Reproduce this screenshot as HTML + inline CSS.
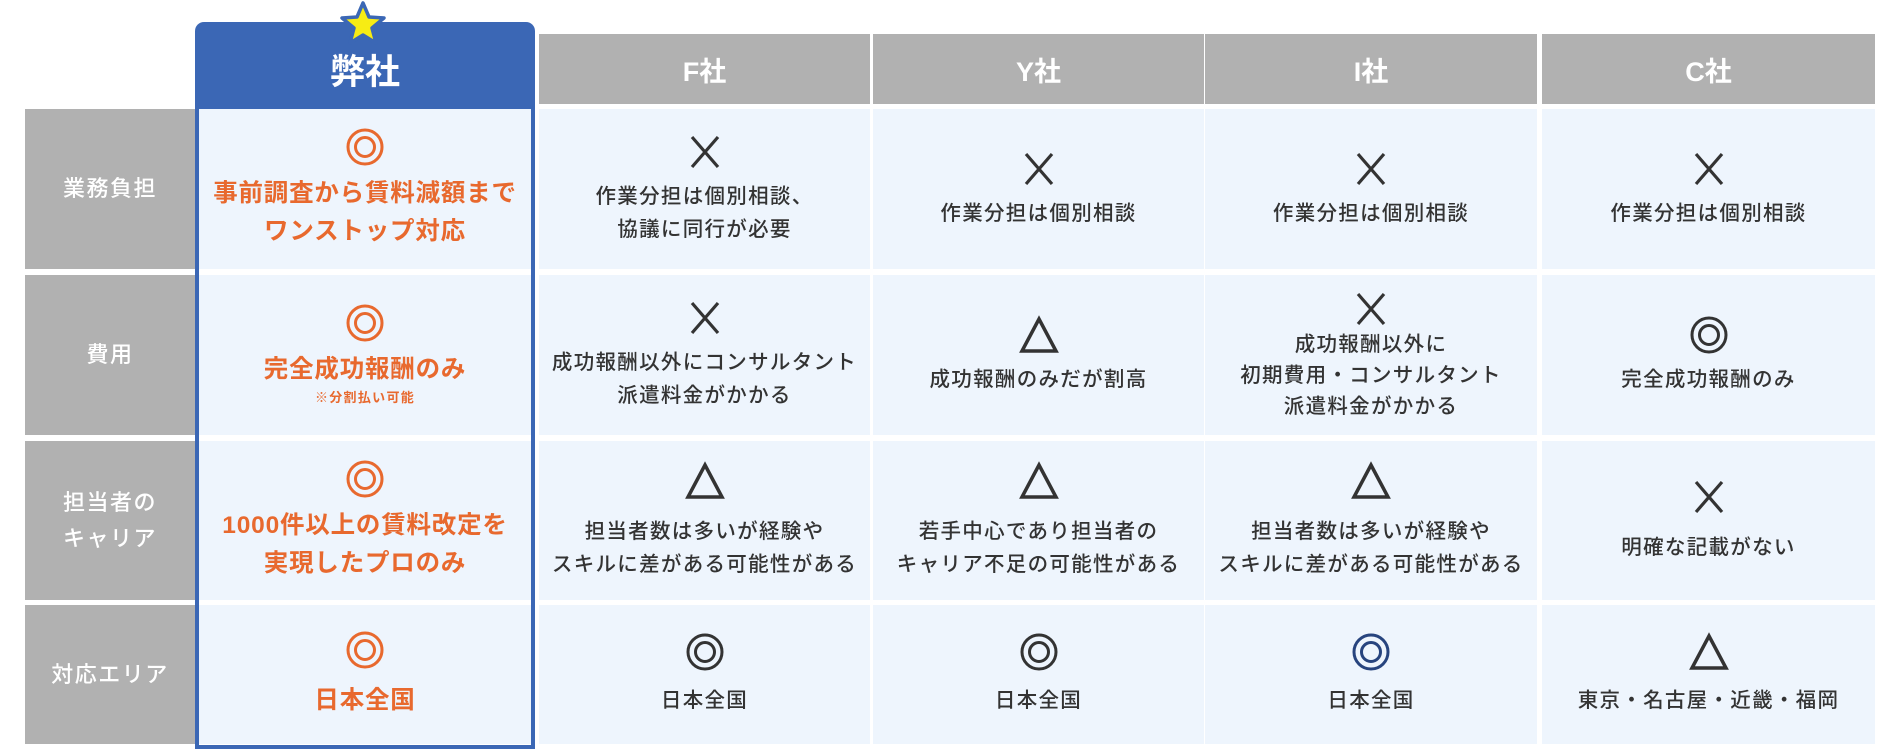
<!DOCTYPE html>
<html><head><meta charset="utf-8"><style>
*{margin:0;padding:0;box-sizing:border-box}
body{width:1895px;height:751px;background:#fff;position:relative;overflow:hidden;font-family:"Liberation Sans","Noto Sans CJK JP",sans-serif;color:#333}
.a{position:absolute}
.hd{background:#b1b1b1;color:#fff;font-size:27px;font-weight:bold;display:flex;align-items:center;justify-content:center;top:34px;height:70px}
.lb{background:#b1b1b1;color:#fff;font-size:22px;font-weight:500;display:flex;align-items:center;justify-content:center;text-align:center;line-height:36px;left:25px;width:170px;letter-spacing:1.5px}
.c{background:#eef5fd;display:flex;flex-direction:column;align-items:center;justify-content:center;text-align:center;font-size:20.5px;font-weight:500;line-height:33px;letter-spacing:1.3px}
.c svg{margin-bottom:8px}
.o{color:#e8692e;font-weight:bold;font-size:24.5px;line-height:38px;letter-spacing:0.8px}
.note{font-size:13px;line-height:18px;color:#e8692e;font-weight:bold}
</style></head><body>
<!-- blue column -->
<div class="a" style="left:195px;top:22px;width:340px;height:88px;background:#3b67b5;border-radius:9px 9px 0 0"></div>
<div class="a" style="left:195px;top:105px;width:340px;height:644px;border:4px solid #3b67b5;border-top:none"></div>
<div class="a" style="left:195px;top:22px;width:340px;height:87px;color:#fff;font-size:35px;font-weight:bold;display:flex;align-items:center;justify-content:center;padding-top:8px">弊社</div>
<svg class="a" style="left:338px;top:0" width="50" height="48" viewBox="0 0 50 48"><polygon points="25,3 31,17 46,18 34,28 38,43 25,35 12,43 16,28 4,18 19,17" fill="#f7ec14" stroke="#3b67b5" stroke-width="3.5" stroke-linejoin="round"/></svg>

<div class="a hd" style="left:539px;width:331px">F社</div>
<div class="a hd" style="left:873px;width:331px">Y社</div>
<div class="a hd" style="left:1205px;width:332px">I社</div>
<div class="a hd" style="left:1542px;width:333px">C社</div>

<div class="a lb" style="top:109px;height:160px">業務負担</div>
<div class="a lb" style="top:275px;height:160px">費用</div>
<div class="a lb" style="top:441px;height:159px">担当者の<br>キャリア</div>
<div class="a lb" style="top:605px;height:139px">対応エリア</div>

<svg width="0" height="0" style="position:absolute"><defs>
<g id="dc"><circle cx="20" cy="20" r="17" fill="none" stroke-width="3"/><circle cx="20" cy="20" r="9.5" fill="none" stroke-width="3"/></g>
<g id="x"><line x1="7" y1="5" x2="33" y2="35" stroke-width="3.2"/><line x1="33" y1="5" x2="7" y2="35" stroke-width="3.2"/></g>
<g id="t"><polygon points="20,4 37,36 3,36" fill="none" stroke-width="3.5"/></g>
</defs></svg>

<!-- Row 1 -->
<div class="a c" style="left:199px;top:109px;width:332px;height:160px"><svg width="40" height="40" stroke="#e8692e"><use href="#dc"/></svg><div class="o">事前調査から賃料減額まで<br>ワンストップ対応</div></div>
<div class="a c" style="left:539px;top:109px;width:331px;height:160px"><svg width="40" height="40" stroke="#333"><use href="#x"/></svg><div>作業分担は個別相談、<br>協議に同行が必要</div></div>
<div class="a c" style="left:873px;top:109px;width:331px;height:160px"><svg width="40" height="40" stroke="#333"><use href="#x"/></svg><div>作業分担は個別相談</div></div>
<div class="a c" style="left:1205px;top:109px;width:332px;height:160px"><svg width="40" height="40" stroke="#333"><use href="#x"/></svg><div>作業分担は個別相談</div></div>
<div class="a c" style="left:1542px;top:109px;width:333px;height:160px"><svg width="40" height="40" stroke="#333"><use href="#x"/></svg><div>作業分担は個別相談</div></div>

<!-- Row 2 -->
<div class="a c" style="left:199px;top:275px;width:332px;height:160px"><svg width="40" height="40" stroke="#e8692e"><use href="#dc"/></svg><div class="o">完全成功報酬のみ</div><div class="note">※分割払い可能</div></div>
<div class="a c" style="left:539px;top:275px;width:331px;height:160px"><svg width="40" height="40" stroke="#333"><use href="#x"/></svg><div>成功報酬以外にコンサルタント<br>派遣料金がかかる</div></div>
<div class="a c" style="left:873px;top:275px;width:331px;height:160px"><svg width="40" height="40" stroke="#333"><use href="#t"/></svg><div>成功報酬のみだが割高</div></div>
<div class="a c" style="left:1205px;top:275px;width:332px;height:160px"><svg width="40" height="40" stroke="#333" style="margin-bottom:0"><use href="#x"/></svg><div style="line-height:31px">成功報酬以外に<br>初期費用・コンサルタント<br>派遣料金がかかる</div></div>
<div class="a c" style="left:1542px;top:275px;width:333px;height:160px"><svg width="40" height="40" stroke="#333"><use href="#dc"/></svg><div>完全成功報酬のみ</div></div>

<!-- Row 3 -->
<div class="a c" style="left:199px;top:441px;width:332px;height:159px"><svg width="40" height="40" stroke="#e8692e"><use href="#dc"/></svg><div class="o">1000件以上の賃料改定を<br>実現したプロのみ</div></div>
<div class="a c" style="left:539px;top:441px;width:331px;height:159px"><svg width="40" height="40" stroke="#333" style="margin-bottom:14px"><use href="#t"/></svg><div>担当者数は多いが経験や<br>スキルに差がある可能性がある</div></div>
<div class="a c" style="left:873px;top:441px;width:331px;height:159px"><svg width="40" height="40" stroke="#333" style="margin-bottom:14px"><use href="#t"/></svg><div>若手中心であり担当者の<br>キャリア不足の可能性がある</div></div>
<div class="a c" style="left:1205px;top:441px;width:332px;height:159px"><svg width="40" height="40" stroke="#333" style="margin-bottom:14px"><use href="#t"/></svg><div>担当者数は多いが経験や<br>スキルに差がある可能性がある</div></div>
<div class="a c" style="left:1542px;top:441px;width:333px;height:159px"><svg width="40" height="40" stroke="#333" style="margin-bottom:14px"><use href="#x"/></svg><div>明確な記載がない</div></div>

<!-- Row 4 -->
<div class="a c" style="left:199px;top:605px;width:332px;height:139px"><svg width="40" height="40" stroke="#e8692e" style="margin-bottom:12px"><use href="#dc"/></svg><div class="o">日本全国</div></div>
<div class="a c" style="left:539px;top:605px;width:331px;height:139px"><svg width="40" height="40" stroke="#333" style="margin-bottom:12px"><use href="#dc"/></svg><div>日本全国</div></div>
<div class="a c" style="left:873px;top:605px;width:331px;height:139px"><svg width="40" height="40" stroke="#333" style="margin-bottom:12px"><use href="#dc"/></svg><div>日本全国</div></div>
<div class="a c" style="left:1205px;top:605px;width:332px;height:139px"><svg width="40" height="40" stroke="#27447e" style="margin-bottom:12px"><use href="#dc"/></svg><div>日本全国</div></div>
<div class="a c" style="left:1542px;top:605px;width:333px;height:139px"><svg width="40" height="40" stroke="#333" style="margin-bottom:12px"><use href="#t"/></svg><div>東京・名古屋・近畿・福岡</div></div>
</body></html>
